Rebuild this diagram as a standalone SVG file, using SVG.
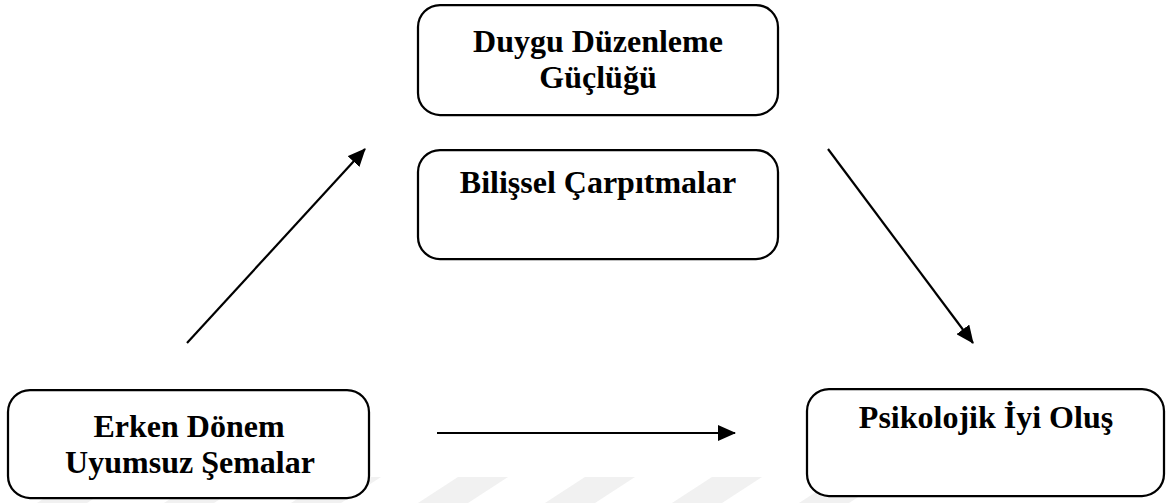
<svg xmlns="http://www.w3.org/2000/svg" width="1170" height="503" viewBox="0 0 1170 503">
  <style>
    .box { fill: #ffffff; stroke: #000000; stroke-width: 2.25; }
    .lbl { font-family: "Liberation Serif", "Times New Roman", serif; font-weight: bold; font-size: 32px; fill: #000000; text-anchor: middle; }
    .conn { stroke: #000000; stroke-width: 2.2; fill: none; marker-end: url(#arrow); }
    .wm { fill: #f1f1f1; }
  </style>
  <defs>
    <marker id="arrow" markerUnits="userSpaceOnUse" markerWidth="18" markerHeight="16" refX="17" refY="8" orient="auto">
      <path d="M0,0 L18,8 L0,16 Z" fill="#000000"/>
    </marker>
  </defs>
  <rect width="1170" height="503" fill="#ffffff"/>
  <g id="watermark">
    <polygon class="wm" points="77,477 127,477 87,503 37,503"/>
    <polygon class="wm" points="204,477 254,477 214,503 164,503"/>
    <polygon class="wm" points="331,477 381,477 341,503 291,503"/>
    <polygon class="wm" points="458,477 508,477 468,503 418,503"/>
    <polygon class="wm" points="585,477 635,477 595,503 545,503"/>
    <polygon class="wm" points="712,477 762,477 722,503 672,503"/>
    <polygon class="wm" points="839,477 889,477 849,503 799,503"/>
  </g>
  <g id="connectors">
    <line class="conn" x1="187" y1="343" x2="365" y2="149"/>
    <line class="conn" x1="828" y1="149" x2="973" y2="343"/>
    <line class="conn" x1="437" y1="433" x2="735" y2="433"/>
  </g>
  <g id="node-duygu">
    <rect class="box" x="418" y="5" width="360" height="110" rx="22" ry="22"/>
    <text class="lbl" x="598" y="52">Duygu Düzenleme</text>
    <text class="lbl" x="598" y="88">Güçlüğü</text>
  </g>
  <g id="node-bilissel">
    <rect class="box" x="418" y="150" width="360" height="109" rx="22" ry="22"/>
    <text class="lbl" x="598" y="193">Bilişsel Çarpıtmalar</text>
  </g>
  <g id="node-erken">
    <rect class="box" x="8" y="390" width="361" height="108" rx="22" ry="22"/>
    <text class="lbl" x="189" y="437">Erken Dönem</text>
    <text class="lbl" x="190" y="473">Uyumsuz Şemalar</text>
  </g>
  <g id="node-psikolojik">
    <rect class="box" x="807" y="389" width="357" height="107" rx="22" ry="22"/>
    <text class="lbl" x="986" y="428">Psikolojik İyi Oluş</text>
  </g>
</svg>
